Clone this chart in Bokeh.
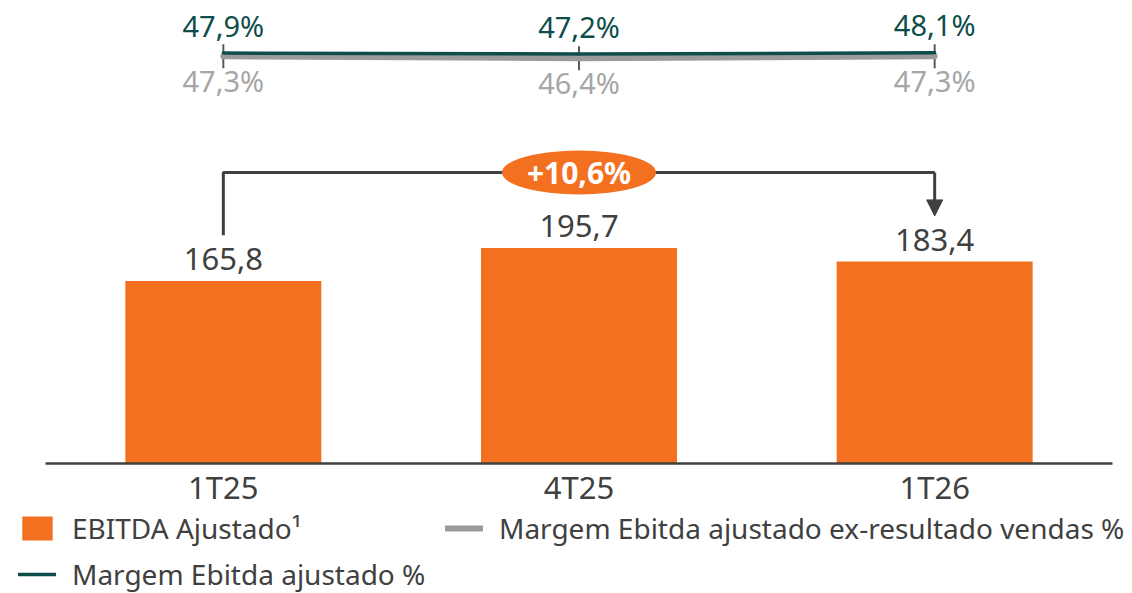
import math
from bokeh.plotting import figure
from bokeh.models import Range1d, Arrow, NormalHead, Legend, LegendItem
from bokeh.core.properties import value
from bokeh.embed import file_html
from bokeh.resources import INLINE

# ---- data ----
categories = ["1T25", "4T25", "1T26"]
ebitda = [165.8, 195.7, 183.4]
margem = [47.9, 47.2, 48.1]
margem_ex = [47.3, 46.4, 47.3]
variacao = "+10,6%"
legend_labels = ["EBITDA Ajustado¹", "Margem Ebitda ajustado %",
                 "Margem Ebitda ajustado ex-resultado vendas %"]

# ---- style ----
FONT = "Noto Sans"
ORANGE = "#F37021"
DARK = "#0D4D4A"
GRAY = "#9B9B9B"
GRAY_TXT = "#A6A6A6"
TXT = "#404040"
LABEL_GAP = 41.5
BRACKET_TOP = 264.3


def fmt(v, suffix=""):
    return f"{v:.1f}".replace(".", ",") + suffix


xs = list(range(len(categories)))

p = figure(frame_width=1132, frame_height=585,
           x_range=Range1d(-0.6265, 2.5562), y_range=Range1d(-118.07, 413.3),
           output_backend="svg", toolbar_location=None, y_axis_location=None,
           x_axis_location=None,
           min_border_left=0, min_border_right=0, min_border_top=8,
           min_border_bottom=0)
p.extra_y_ranges = {"m": Range1d(-338.12, 79.74), "mx": Range1d(-208.51, 70.06)}
p.grid.visible = False
p.outline_line_color = None
p.background_fill_color = "white"
p.border_fill_color = "white"

# bars
bars = p.vbar(x=xs, top=ebitda, width=0.551, fill_color=ORANGE, line_color=None)
p.text(x=xs, y=ebitda, text=[fmt(v) for v in ebitda], text_align="center",
       text_baseline="alphabetic", y_offset=-22, text_font=value(FONT),
       text_font_size="31px", text_color=TXT)

# baseline (category axis) and category labels
p.segment(x0=[xs[0] - 0.5], x1=[xs[-1] + 0.5], y0=[0], y1=[0], line_color=TXT,
          line_width=2.5)
p.text(x=xs, y=[0] * len(xs), text=categories, text_align="center",
       text_baseline="alphabetic", y_offset=23, text_font=value(FONT),
       text_font_size="31px", text_color=TXT)

# small ticks at line points
p.scatter(x=xs, y=margem_ex, y_range_name="mx", marker="dash", angle=math.pi / 2,
          size=24, line_color="#5A5A5A", line_width=2)

# margin lines
gl = p.line(x=xs, y=margem_ex, y_range_name="mx", line_color=GRAY, line_width=6,
            line_cap="round")
dl = p.line(x=xs, y=margem, y_range_name="m", line_color=DARK, line_width=3.5,
            line_cap="round")
p.text(x=xs, y=margem, y_range_name="m", text=[fmt(v, "%") for v in margem],
       text_align="center", text_baseline="alphabetic", y_offset=-28,
       text_font=value(FONT), text_font_size="29px", text_color=DARK)
p.text(x=xs, y=margem_ex, y_range_name="mx", text=[fmt(v, "%") for v in margem_ex],
       text_align="center", text_baseline="alphabetic", y_offset=24,
       text_font=value(FONT), text_font_size="29px", text_color=GRAY_TXT)

# bracket with arrow
p.line(x=[xs[0], xs[0], xs[-1]], y=[ebitda[0] + LABEL_GAP, BRACKET_TOP, BRACKET_TOP],
       line_color=TXT, line_width=3)
p.add_layout(Arrow(end=NormalHead(size=16, fill_color=TXT, line_color=TXT),
                   x_start=xs[-1], y_start=BRACKET_TOP, x_end=xs[-1],
                   y_end=ebitda[-1] + LABEL_GAP, line_color=TXT, line_width=3))
p.ellipse(x=[xs[1]], y=[BRACKET_TOP], width=154, height=44, width_units="screen",
          height_units="screen", fill_color=ORANGE, line_color=None)
p.text(x=[xs[1]], y=[BRACKET_TOP], text=[variacao], text_align="center",
       text_baseline="middle", text_font=value(FONT), text_font_size="30px",
       text_font_style="bold", text_color="white")

# legend
legend = Legend(items=[LegendItem(label=legend_labels[0], renderers=[bars]),
                       LegendItem(label=legend_labels[1], renderers=[dl]),
                       LegendItem(label=legend_labels[2], renderers=[gl])],
                orientation="vertical", nrows=2, location=(18, 0),
                glyph_width=38, glyph_height=30, label_standoff=16, spacing=8,
                label_width=365,
                padding=0, margin=0, border_line_color=None,
                background_fill_alpha=0, label_text_font=FONT,
                label_text_font_size="28px", label_text_color=TXT)
p.add_layout(legend, "center")

open("out.html", "w").write(file_html(p, INLINE))
